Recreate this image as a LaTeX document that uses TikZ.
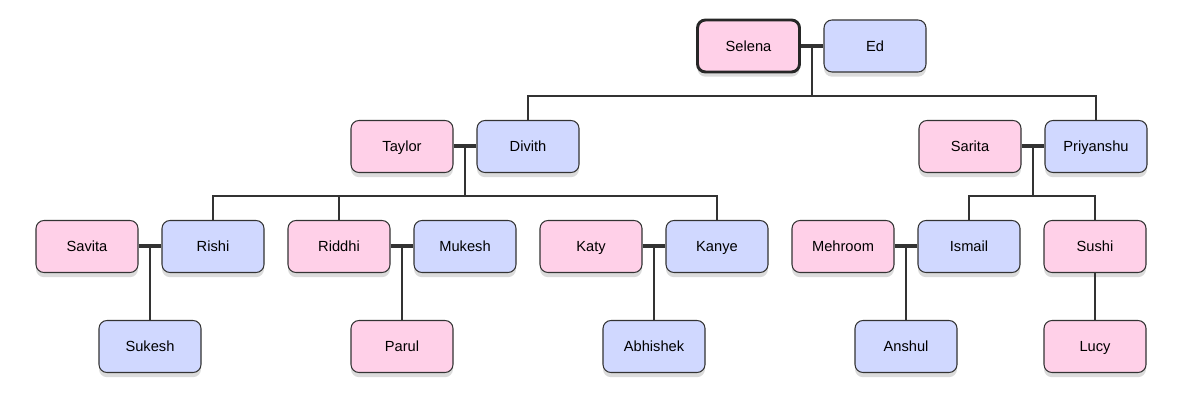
\documentclass[tikz,border=0pt]{standalone}
\usepackage{fontspec}
\setmainfont{Liberation Sans}
\usepackage{xcolor}
\usepackage{tikz}
\usetikzlibrary{calc,shadows}
\definecolor{her}{HTML}{FFD0E8}
\definecolor{him}{HTML}{D0D8FF}
\definecolor{edge}{HTML}{333333}
\tikzset{
  person/.style={draw=edge, line width=0.8pt, rounded corners=6pt,
    minimum width=76.5pt, minimum height=39pt, inner sep=0pt,
    text height=8pt, text depth=0pt,
    font=\fontsize{11}{13}\selectfont,
    drop shadow={shadow xshift=0pt, shadow yshift=-3.5pt, opacity=0.14, fill=black}},
  she/.style={person, fill=her},
  he/.style={person, fill=him},
  root/.style={line width=2.2pt, draw=black!85},
  couple/.style={draw=edge, line width=3pt},
  link/.style={draw=edge, line width=1.5pt},
}
\begin{document}
\begin{tikzpicture}[x=0.75pt, y=-0.75pt]
  \useasboundingbox (0,0) rectangle (1189,420);

  % generation 0
  \node[she, root] (Selena) at (748.5,46) {Selena};
  \node[he] (Ed) at (875,46) {Ed};

  % generation 1
  \node[she] (Taylor) at (402,146.5) {Taylor};
  \node[he]  (Divith) at (528,146.5) {Divith};
  \node[she] (Sarita) at (970,146.5) {Sarita};
  \node[he]  (Priyanshu) at (1096,146.5) {Priyanshu};

  % generation 2
  \node[she] (Savita)  at (87,246.5)   {Savita};
  \node[he]  (Rishi)   at (213,246.5)  {Rishi};
  \node[she] (Riddhi)  at (339,246.5)  {Riddhi};
  \node[he]  (Mukesh)  at (465,246.5)  {Mukesh};
  \node[she] (Katy)    at (591,246.5)  {Katy};
  \node[he]  (Kanye)   at (717,246.5)  {Kanye};
  \node[she] (Mehroom) at (843,246.5)  {Mehroom};
  \node[he]  (Ismail)  at (969,246.5)  {Ismail};
  \node[she] (Sushi)   at (1095,246.5) {Sushi};

  % generation 3
  \node[he]  (Sukesh)   at (150,346.5)  {Sukesh};
  \node[she] (Parul)    at (402,346.5)  {Parul};
  \node[he]  (Abhishek) at (654,346.5)  {Abhishek};
  \node[he]  (Anshul)   at (906,346.5)  {Anshul};
  \node[she] (Lucy)     at (1095,346.5) {Lucy};

  % couples
  \draw[couple] (Selena.east)--(Ed.west) coordinate[midway] (SE);
  \draw[couple] (Taylor.east)--(Divith.west) coordinate[midway] (TD);
  \draw[couple] (Sarita.east)--(Priyanshu.west) coordinate[midway] (SP);
  \draw[couple] (Savita.east)--(Rishi.west) coordinate[midway] (SR);
  \draw[couple] (Riddhi.east)--(Mukesh.west) coordinate[midway] (RM);
  \draw[couple] (Katy.east)--(Kanye.west) coordinate[midway] (KK);
  \draw[couple] (Mehroom.east)--(Ismail.west) coordinate[midway] (MI);

  % children of Selena and Ed
  \draw[link] (SE)--++(0,50) coordinate (SEbar);
  \draw[link] (Divith.north) |- (SEbar) -| (Priyanshu.north);

  % children of Taylor and Divith
  \draw[link] (TD)--++(0,50) coordinate (TDbar);
  \draw[link] (Rishi.north) |- (TDbar) -| (Kanye.north);
  \draw[link] (Riddhi.north)--(Riddhi.north |- TDbar);

  % children of Sarita and Priyanshu
  \draw[link] (SP)--++(0,50) coordinate (SPbar);
  \draw[link] (Ismail.north) |- (SPbar) -| (Sushi.north);

  % last generation
  \draw[link] (SR)--(Sukesh.north);
  \draw[link] (RM)--(Parul.north);
  \draw[link] (KK)--(Abhishek.north);
  \draw[link] (MI)--(Anshul.north);
  \draw[link] (Sushi.south)--(Lucy.north);
\end{tikzpicture}
\end{document}
